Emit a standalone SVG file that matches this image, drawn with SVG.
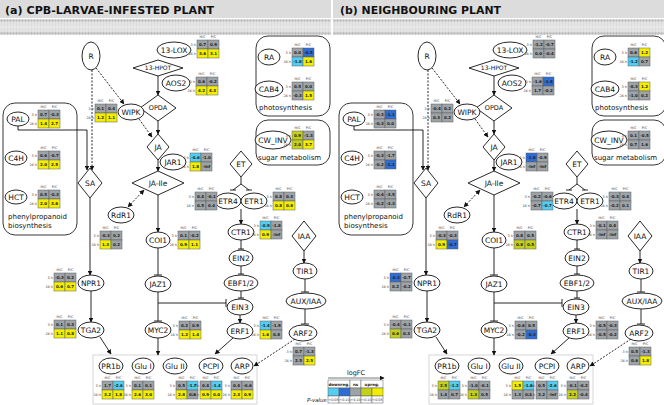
<svg xmlns="http://www.w3.org/2000/svg" xmlns:xlink="http://www.w3.org/1999/xlink" width="664" height="405" viewBox="0 0 664 405">
<style>
.n{fill:#fff;stroke:#111;stroke-width:0.9}
.bx{fill:#fff;stroke:#222;stroke-width:0.9}
.t{font-family:"DejaVu Sans",Verdana,sans-serif;font-size:7.5px;text-anchor:middle;fill:#111}
.bl{font-family:"DejaVu Sans",Verdana,sans-serif;font-size:7px;fill:#111}
.h{font-family:"DejaVu Sans",sans-serif;font-size:3.4px;text-anchor:middle;fill:#333}
.r{font-family:"DejaVu Sans",sans-serif;font-size:3.4px;text-anchor:end;fill:#333}
.v{font-family:"DejaVu Sans",sans-serif;font-size:4px;font-weight:bold;text-anchor:middle;fill:#222}
.tb rect{stroke:#5a5e62;stroke-width:0.5}
.g{fill:#9ea3a7}.y{fill:#f3ee00}.o{fill:#c5d01a}.c{fill:#55cdf0}.b{fill:#2f6cd6}
.ln path{fill:none;stroke:#111;stroke-width:0.9}
.ln path.ds{stroke-dasharray:2,1.5}
.ttl{font-family:"DejaVu Sans",Verdana,sans-serif;font-size:11px;font-weight:bold;fill:#111}
</style>
<defs>
<marker id="ar" viewBox="0 0 10 10" refX="9" refY="5" markerWidth="5" markerHeight="5" markerUnits="userSpaceOnUse" orient="auto-start-reverse"><path d="M0,0 L10,5 L0,10 z" fill="#111"/></marker>
<pattern id="mem" width="3" height="16" patternUnits="userSpaceOnUse" y="19"><rect width="3" height="16" fill="#ececec"/><circle cx="1.5" cy="1.6" r="1.3" fill="#bdbdbd"/><circle cx="1.5" cy="14.4" r="1.3" fill="#bdbdbd"/><path d="M1 3V7.5M2 3V7.5M1 8.5V13M2 8.5V13" stroke="#c2c2c2" stroke-width="0.4"/></pattern>
<g id="hd"><text class="h" x="5.5" y="-1.8">H/C</text><text class="h" x="16.5" y="-1.8">P/C</text><text class="r" x="-1" y="5.8">3 h</text><text class="r" x="-1" y="14.8">24 h</text></g>
</defs>
<rect width="664" height="405" fill="#fff"/>
<!-- title bars and membranes -->
<rect x="0" y="0" width="331" height="18" fill="#dcdcdc"/>
<rect x="333" y="0" width="331" height="18" fill="#dcdcdc"/>
<text class="ttl" x="5" y="14" textLength="209" lengthAdjust="spacingAndGlyphs">(a) CPB-LARVAE-INFESTED PLANT</text>
<text class="ttl" x="340" y="14" textLength="161" lengthAdjust="spacingAndGlyphs">(b) NEIGHBOURING PLANT</text>
<rect x="0" y="19" width="331" height="16" fill="url(#mem)"/>
<rect x="333" y="19" width="331" height="16" fill="url(#mem)"/>

<!-- ===================== PANEL A ===================== -->
<g id="panelA">
<g id="a-box-phenyl"><rect class="bx" x="3" y="103" width="74" height="132" rx="12"/><text class="bl" x="8" y="219">phenylpropanoid</text><text class="bl" x="8" y="228">biosynthesis</text></g>
<g id="a-box-photo"><rect class="bx" x="256" y="36" width="74" height="80" rx="12"/><text class="bl" x="259" y="110">photosynthesis</text></g>
<g id="a-box-sugar"><rect class="bx" x="256" y="120" width="74" height="45" rx="12"/><text class="bl" x="258" y="160">sugar metabolism</text></g>
<g id="a-box-targets"><rect x="93" y="355" width="164" height="49" fill="#fff" stroke="#ccc" stroke-width="0.8"/></g>

<g id="a-edges" class="ln">
<path class="ds" d="M96 68 L124 104" marker-end="url(#ar)"/>
<path class="ds" d="M92 70 V170" marker-end="url(#ar)"/>
<path d="M18 126 V130 H87 V170" marker-end="url(#ar)"/>
<path d="M158 76 V95" marker-end="url(#ar)"/>
<path d="M158 121 V134" marker-end="url(#ar)"/>
<path class="ds" d="M139 119 L152 137" marker-end="url(#ar)"/>
<path d="M158 160 V171" marker-end="url(#ar)"/>
<path class="ds" d="M144 190 L128 207" marker-start="url(#ar)" marker-end="url(#ar)"/>
<path d="M158 195 V232" marker-end="url(#ar)"/>
<path d="M158 248 V275 M154 275 H162"/>
<path d="M158 292 V321 M154 321 H162"/>
<path d="M158 303 H226 M226 299 V307"/>
<path d="M158 338 V355" marker-end="url(#ar)"/>
<path d="M90 198 V275" marker-end="url(#ar)"/>
<path d="M91 291 V322" marker-end="url(#ar)"/>
<path d="M100 337 L111 354" marker-end="url(#ar)"/>
<path d="M241 177 V184 L233 190 M241 184 L249 190 M230 190 H236 M246 190 H252"/>
<path d="M241 209 V224" marker-end="url(#ar)"/>
<path d="M241 240 V249 M238 249 H244"/>
<path d="M241 266 V274 M238 274 H244"/>
<path d="M241 291 V298 M238 298 H244"/>
<path d="M240 315 V323" marker-end="url(#ar)"/>
<path d="M233 338 L215 354" marker-end="url(#ar)"/>
<path class="ds" d="M295 339 L254 366" marker-end="url(#ar)"/>
<path d="M304 251 V263" marker-end="url(#ar)"/>
<path d="M305 279 V292 M301 292 H309"/>
<path d="M305 309 V324 M301 324 H309"/>
</g>

<g id="a-R"><ellipse class="n" cx="91" cy="56" rx="9" ry="14"/><text class="t" x="91" y="59">R</text></g>
<g id="a-13LOX"><ellipse class="n" cx="174" cy="50" rx="17" ry="8"/><text class="t" x="174" y="52.7">13-LOX</text></g>
<g id="a-13HPOT"><path class="n" d="M133 68 L158 60 L183 68 L158 76 Z"/><text class="t" x="158" y="70.3" style="font-size:6px">13-HPOT</text></g>
<g id="a-AOS2"><ellipse class="n" cx="176" cy="83" rx="14" ry="8"/><text class="t" x="176" y="85.7">AOS2</text></g>
<g id="a-OPDA"><path class="n" d="M140 108 L158 95 L176 108 L158 121 Z"/><text class="t" x="158" y="110.3" style="font-size:6.5px">OPDA</text></g>
<g id="a-WIPK"><ellipse class="n" cx="131" cy="112" rx="13" ry="8"/><text class="t" x="131" y="114.7">WIPK</text></g>
<g id="a-JA"><path class="n" d="M147 147 L158 134 L169 147 L158 160 Z"/><text class="t" x="158" y="149.7">JA</text></g>
<g id="a-JAR1"><ellipse class="n" cx="173" cy="162" rx="13" ry="8"/><text class="t" x="173" y="164.7">JAR1</text></g>
<g id="a-JAIle"><path class="n" d="M132 183 L158 171 L184 183 L158 195 Z"/><text class="t" x="158" y="185.7">JA-Ile</text></g>
<g id="a-SA"><path class="n" d="M78 183 L90 168 L102 183 L90 198 Z"/><text class="t" x="90" y="185.7">SA</text></g>
<g id="a-PAL"><ellipse class="n" cx="18" cy="119" rx="11" ry="7"/><text class="t" x="18" y="121.7">PAL</text></g>
<g id="a-C4H"><ellipse class="n" cx="16" cy="158" rx="11" ry="7"/><text class="t" x="16" y="160.7">C4H</text></g>
<g id="a-HCT"><ellipse class="n" cx="16" cy="197" rx="11" ry="7"/><text class="t" x="16" y="199.7">HCT</text></g>
<g id="a-RA"><ellipse class="n" cx="269" cy="57" rx="11" ry="8"/><text class="t" x="269" y="59.7">RA</text></g>
<g id="a-CAB4"><ellipse class="n" cx="269" cy="89" rx="14" ry="8"/><text class="t" x="269" y="91.7">CAB4</text></g>
<g id="a-CWINV"><ellipse class="n" cx="273" cy="140" rx="18" ry="9"/><text class="t" x="273" y="142.7">CW_INV</text></g>
<g id="a-RdR1"><ellipse class="n" cx="121" cy="215" rx="13" ry="8"/><text class="t" x="121" y="217.7">RdR1</text></g>
<g id="a-COI1"><ellipse class="n" cx="158" cy="240" rx="12" ry="8"/><text class="t" x="158" y="242.7">COI1</text></g>
<g id="a-ET"><path class="n" d="M230 164 L241 151 L252 164 L241 177 Z"/><text class="t" x="241" y="166.7">ET</text></g>
<g id="a-ETR4"><ellipse class="n" cx="228" cy="201" rx="13" ry="8"/><text class="t" x="228" y="203.7">ETR4</text></g>
<g id="a-ETR1"><ellipse class="n" cx="254" cy="201" rx="13" ry="8"/><text class="t" x="254" y="203.7">ETR1</text></g>
<g id="a-CTR1"><ellipse class="n" cx="241" cy="232" rx="13" ry="8"/><text class="t" x="241" y="234.7">CTR1</text></g>
<g id="a-IAA"><path class="n" d="M292 236 L304 221 L316 236 L304 251 Z"/><text class="t" x="304" y="238.7">IAA</text></g>
<g id="a-EIN2"><ellipse class="n" cx="241" cy="258" rx="12" ry="8"/><text class="t" x="241" y="260.7">EIN2</text></g>
<g id="a-TIR1"><ellipse class="n" cx="305" cy="271" rx="12" ry="8"/><text class="t" x="305" y="273.7">TIR1</text></g>
<g id="a-EBF12"><ellipse class="n" cx="241" cy="283" rx="17" ry="8"/><text class="t" x="241" y="285.7">EBF1/2</text></g>
<g id="a-AUXIAA"><ellipse class="n" cx="306" cy="301" rx="20" ry="8"/><text class="t" x="306" y="303.7">AUX/IAA</text></g>
<g id="a-EIN3"><ellipse class="n" cx="240" cy="307" rx="13" ry="8"/><text class="t" x="240" y="309.7">EIN3</text></g>
<g id="a-ERF1"><ellipse class="n" cx="240" cy="331" rx="13" ry="8"/><text class="t" x="240" y="333.7">ERF1</text></g>
<g id="a-ARF2"><ellipse class="n" cx="303" cy="333" rx="14" ry="8"/><text class="t" x="303" y="335.7">ARF2</text></g>
<g id="a-NPR1"><ellipse class="n" cx="91" cy="283" rx="13" ry="8"/><text class="t" x="91" y="285.7">NPR1</text></g>
<g id="a-TGA2"><ellipse class="n" cx="91" cy="330" rx="13" ry="8"/><text class="t" x="91" y="332.7">TGA2</text></g>
<g id="a-JAZ1"><ellipse class="n" cx="158" cy="284" rx="13" ry="8"/><text class="t" x="158" y="286.7">JAZ1</text></g>
<g id="a-MYC2"><ellipse class="n" cx="158" cy="330" rx="13" ry="8"/><text class="t" x="158" y="332.7">MYC2</text></g>
<g id="a-PR1b"><ellipse class="n" cx="111" cy="366" rx="12" ry="8"/><text class="t" x="111" y="368.7">PR1b</text></g>
<g id="a-GluI"><ellipse class="n" cx="143" cy="366" rx="11" ry="8"/><text class="t" x="143" y="368.7">Glu I</text></g>
<g id="a-GluII"><ellipse class="n" cx="175" cy="366" rx="12" ry="8"/><text class="t" x="175" y="368.7">Glu II</text></g>
<g id="a-PCPI"><ellipse class="n" cx="211" cy="366" rx="12" ry="8"/><text class="t" x="211" y="368.7">PCPI</text></g>
<g id="a-ARP"><ellipse class="n" cx="242" cy="366" rx="11" ry="8"/><text class="t" x="242" y="368.7">ARP</text></g>

<g id="a-tables" class="tb">
<g transform="translate(197,40)"><use href="#hd"/><rect class="g" width="11" height="9"/><rect class="g" x="11" width="11" height="9"/><rect class="y" y="9" width="11" height="9"/><rect class="y" x="11" y="9" width="11" height="9"/><text class="v" x="5.5" y="6">0.7</text><text class="v" x="16.5" y="6">0.9</text><text class="v" x="5.5" y="15">3.6</text><text class="v" x="16.5" y="15">3.1</text></g>
<g transform="translate(196,77)"><use href="#hd"/><rect class="g" width="11" height="9"/><rect class="g" x="11" width="11" height="9"/><rect class="y" y="9" width="11" height="9"/><rect class="y" x="11" y="9" width="11" height="9"/><text class="v" x="5.5" y="6">0.6</text><text class="v" x="16.5" y="6">-0.2</text><text class="v" x="5.5" y="15">4.2</text><text class="v" x="16.5" y="15">4.3</text></g>
<g transform="translate(95,104)"><use href="#hd"/><rect class="g" width="11" height="9"/><rect class="g" x="11" width="11" height="9"/><rect class="y" y="9" width="11" height="9"/><rect class="y" x="11" y="9" width="11" height="9"/><text class="v" x="5.5" y="6">0.1</text><text class="v" x="16.5" y="6">0.4</text><text class="v" x="5.5" y="15">1.2</text><text class="v" x="16.5" y="15">1.1</text></g>
<g transform="translate(38,110)"><use href="#hd"/><rect class="g" width="11" height="9"/><rect class="g" x="11" width="11" height="9"/><rect class="y" y="9" width="11" height="9"/><rect class="y" x="11" y="9" width="11" height="9"/><text class="v" x="5.5" y="6">0.7</text><text class="v" x="16.5" y="6">-0.3</text><text class="v" x="5.5" y="15">1.4</text><text class="v" x="16.5" y="15">2.7</text></g>
<g transform="translate(38,151)"><use href="#hd"/><rect class="g" width="11" height="9"/><rect class="g" x="11" width="11" height="9"/><rect class="y" y="9" width="11" height="9"/><rect class="y" x="11" y="9" width="11" height="9"/><text class="v" x="5.5" y="6">0.6</text><text class="v" x="16.5" y="6">-0.7</text><text class="v" x="5.5" y="15">2.0</text><text class="v" x="16.5" y="15">2.5</text></g>
<g transform="translate(38,190)"><use href="#hd"/><rect class="g" width="11" height="9"/><rect class="g" x="11" width="11" height="9"/><rect class="y" y="9" width="11" height="9"/><rect class="y" x="11" y="9" width="11" height="9"/><text class="v" x="5.5" y="6">0.5</text><text class="v" x="16.5" y="6">-0.3</text><text class="v" x="5.5" y="15">2.0</text><text class="v" x="16.5" y="15">3.6</text></g>
<g transform="translate(292,48)"><use href="#hd"/><rect class="g" width="11" height="9"/><rect class="b" x="11" width="11" height="9"/><rect class="c" y="9" width="11" height="9"/><rect class="y" x="11" y="9" width="11" height="9"/><text class="v" x="5.5" y="6">0.0</text><text class="v" x="16.5" y="6">-0.5</text><text class="v" x="5.5" y="15">-1.8</text><text class="v" x="16.5" y="15">1.6</text></g>
<g transform="translate(292,82)"><use href="#hd"/><rect class="g" width="11" height="9"/><rect class="g" x="11" width="11" height="9"/><rect class="g" y="9" width="11" height="9"/><rect class="y" x="11" y="9" width="11" height="9"/><text class="v" x="5.5" y="6">0.5</text><text class="v" x="16.5" y="6">0.0</text><text class="v" x="5.5" y="15">-0.3</text><text class="v" x="16.5" y="15">1.5</text></g>
<g transform="translate(292,131)"><use href="#hd"/><rect class="o" width="11" height="9"/><rect class="g" x="11" width="11" height="9"/><rect class="o" y="9" width="11" height="9"/><rect class="y" x="11" y="9" width="11" height="9"/><text class="v" x="5.5" y="6">0.9</text><text class="v" x="16.5" y="6">-1.3</text><text class="v" x="5.5" y="15">2.0</text><text class="v" x="16.5" y="15">3.7</text></g>
<g transform="translate(190,153)"><use href="#hd"/><rect class="c" width="11" height="9"/><rect class="g" x="11" width="11" height="9"/><rect class="y" y="9" width="11" height="9"/><rect class="g" x="11" y="9" width="11" height="9"/><text class="v" x="5.5" y="6">-0.6</text><text class="v" x="16.5" y="6">-1.0</text><text class="v" x="5.5" y="15">1.8</text><text class="v" x="16.5" y="15">-Inf</text></g>
<g transform="translate(195,192)"><use href="#hd"/><rect class="g" width="11" height="9"/><rect class="g" x="11" width="11" height="9"/><rect class="g" y="9" width="11" height="9"/><rect class="g" x="11" y="9" width="11" height="9"/><text class="v" x="5.5" y="6">0.4</text><text class="v" x="16.5" y="6">-0.1</text><text class="v" x="5.5" y="15">0.5</text><text class="v" x="16.5" y="15">0.4</text></g>
<g transform="translate(273,192)"><use href="#hd"/><rect class="g" width="11" height="9"/><rect class="g" x="11" width="11" height="9"/><rect class="y" y="9" width="11" height="9"/><rect class="y" x="11" y="9" width="11" height="9"/><text class="v" x="5.5" y="6">0.8</text><text class="v" x="16.5" y="6">0.3</text><text class="v" x="5.5" y="15">0.8</text><text class="v" x="16.5" y="15">0.8</text></g>
<g transform="translate(260,221)"><use href="#hd"/><rect class="c" width="11" height="9"/><rect class="g" x="11" width="11" height="9"/><rect class="y" y="9" width="11" height="9"/><rect class="g" x="11" y="9" width="11" height="9"/><text class="v" x="5.5" y="6">-0.9</text><text class="v" x="16.5" y="6">-1.8</text><text class="v" x="5.5" y="15">0.9</text><text class="v" x="16.5" y="15">-Inf</text></g>
<g transform="translate(100,231)"><use href="#hd"/><rect class="g" width="11" height="9"/><rect class="g" x="11" width="11" height="9"/><rect class="y" y="9" width="11" height="9"/><rect class="g" x="11" y="9" width="11" height="9"/><text class="v" x="5.5" y="6">-0.3</text><text class="v" x="16.5" y="6">0.2</text><text class="v" x="5.5" y="15">1.3</text><text class="v" x="16.5" y="15">0.2</text></g>
<g transform="translate(178,231)"><use href="#hd"/><rect class="g" width="11" height="9"/><rect class="g" x="11" width="11" height="9"/><rect class="y" y="9" width="11" height="9"/><rect class="y" x="11" y="9" width="11" height="9"/><text class="v" x="5.5" y="6">0.1</text><text class="v" x="16.5" y="6">-0.2</text><text class="v" x="5.5" y="15">0.9</text><text class="v" x="16.5" y="15">1.1</text></g>
<g transform="translate(54,273)"><use href="#hd"/><rect class="g" width="11" height="9"/><rect class="g" x="11" width="11" height="9"/><rect class="y" y="9" width="11" height="9"/><rect class="y" x="11" y="9" width="11" height="9"/><text class="v" x="5.5" y="6">-0.3</text><text class="v" x="16.5" y="6">0.2</text><text class="v" x="5.5" y="15">0.6</text><text class="v" x="16.5" y="15">0.7</text></g>
<g transform="translate(54,320)"><use href="#hd"/><rect class="g" width="11" height="9"/><rect class="g" x="11" width="11" height="9"/><rect class="y" y="9" width="11" height="9"/><rect class="y" x="11" y="9" width="11" height="9"/><text class="v" x="5.5" y="6">0.1</text><text class="v" x="16.5" y="6">0.3</text><text class="v" x="5.5" y="15">1.1</text><text class="v" x="16.5" y="15">0.8</text></g>
<g transform="translate(179,321)"><use href="#hd"/><rect class="g" width="11" height="9"/><rect class="g" x="11" width="11" height="9"/><rect class="y" y="9" width="11" height="9"/><rect class="y" x="11" y="9" width="11" height="9"/><text class="v" x="5.5" y="6">0.2</text><text class="v" x="16.5" y="6">0.9</text><text class="v" x="5.5" y="15">1.2</text><text class="v" x="16.5" y="15">1.4</text></g>
<g transform="translate(260,321)"><use href="#hd"/><rect class="c" width="11" height="9"/><rect class="g" x="11" width="11" height="9"/><rect class="y" y="9" width="11" height="9"/><rect class="g" x="11" y="9" width="11" height="9"/><text class="v" x="5.5" y="6">-1.4</text><text class="v" x="16.5" y="6">-1.9</text><text class="v" x="5.5" y="15">1.6</text><text class="v" x="16.5" y="15">0.8</text></g>
<g transform="translate(293,347)"><use href="#hd"/><rect class="g" width="11" height="9"/><rect class="g" x="11" width="11" height="9"/><rect class="g" y="9" width="11" height="9"/><rect class="y" x="11" y="9" width="11" height="9"/><text class="v" x="5.5" y="6">0.7</text><text class="v" x="16.5" y="6">-1.3</text><text class="v" x="5.5" y="15">2.5</text><text class="v" x="16.5" y="15">2.5</text></g>
<g transform="translate(102,381)"><use href="#hd"/><rect class="g" width="11" height="9"/><rect class="c" x="11" width="11" height="9"/><rect class="y" y="9" width="11" height="9"/><rect class="y" x="11" y="9" width="11" height="9"/><text class="v" x="5.5" y="6">1.7</text><text class="v" x="16.5" y="6">-2.6</text><text class="v" x="5.5" y="15">3.2</text><text class="v" x="16.5" y="15">1.8</text></g>
<g transform="translate(132,381)"><use href="#hd"/><rect class="g" width="11" height="9"/><rect class="g" x="11" width="11" height="9"/><rect class="y" y="9" width="11" height="9"/><rect class="y" x="11" y="9" width="11" height="9"/><text class="v" x="5.5" y="6">0.1</text><text class="v" x="16.5" y="6">0.1</text><text class="v" x="5.5" y="15">2.6</text><text class="v" x="16.5" y="15">3.0</text></g>
<g transform="translate(176,381)"><use href="#hd"/><rect class="g" width="11" height="9"/><rect class="c" x="11" width="11" height="9"/><rect class="y" y="9" width="11" height="9"/><rect class="g" x="11" y="9" width="11" height="9"/><text class="v" x="5.5" y="6">0.5</text><text class="v" x="16.5" y="6">-1.7</text><text class="v" x="5.5" y="15">2.8</text><text class="v" x="16.5" y="15">0.6</text></g>
<g transform="translate(200,381)"><use href="#hd"/><rect class="g" width="11" height="9"/><rect class="c" x="11" width="11" height="9"/><rect class="y" y="9" width="11" height="9"/><rect class="y" x="11" y="9" width="11" height="9"/><text class="v" x="5.5" y="6">0.4</text><text class="v" x="16.5" y="6">-1.4</text><text class="v" x="5.5" y="15">0.9</text><text class="v" x="16.5" y="15">0.0</text></g>
<g transform="translate(231,381)"><use href="#hd"/><rect class="g" width="11" height="9"/><rect class="g" x="11" width="11" height="9"/><rect class="y" y="9" width="11" height="9"/><rect class="y" x="11" y="9" width="11" height="9"/><text class="v" x="5.5" y="6">0.4</text><text class="v" x="16.5" y="6">-0.6</text><text class="v" x="5.5" y="15">2.3</text><text class="v" x="16.5" y="15">0.9</text></g>
</g>
</g>

<!-- ===================== PANEL B ===================== -->
<g id="panelB" transform="translate(336,0)">
<g id="b-box-phenyl"><rect class="bx" x="3" y="103" width="74" height="132" rx="12"/><text class="bl" x="8" y="219">phenylpropanoid</text><text class="bl" x="8" y="228">biosynthesis</text></g>
<g id="b-box-photo"><rect class="bx" x="256" y="36" width="74" height="80" rx="12"/><text class="bl" x="259" y="110">photosynthesis</text></g>
<g id="b-box-sugar"><rect class="bx" x="256" y="120" width="74" height="45" rx="12"/><text class="bl" x="258" y="160">sugar metabolism</text></g>
<g id="b-box-targets"><rect x="93" y="355" width="164" height="49" fill="#fff" stroke="#ccc" stroke-width="0.8"/></g>

<g id="b-edges" class="ln">
<path class="ds" d="M96 68 L124 104" marker-end="url(#ar)"/>
<path class="ds" d="M92 70 V170" marker-end="url(#ar)"/>
<path d="M18 126 V130 H87 V170" marker-end="url(#ar)"/>
<path d="M158 76 V95" marker-end="url(#ar)"/>
<path d="M158 121 V134" marker-end="url(#ar)"/>
<path class="ds" d="M139 119 L152 137" marker-end="url(#ar)"/>
<path d="M158 160 V171" marker-end="url(#ar)"/>
<path class="ds" d="M144 190 L128 207" marker-start="url(#ar)" marker-end="url(#ar)"/>
<path d="M158 195 V232" marker-end="url(#ar)"/>
<path d="M158 248 V275 M154 275 H162"/>
<path d="M158 292 V321 M154 321 H162"/>
<path d="M158 303 H226 M226 299 V307"/>
<path d="M158 338 V355" marker-end="url(#ar)"/>
<path d="M90 198 V275" marker-end="url(#ar)"/>
<path d="M91 291 V322" marker-end="url(#ar)"/>
<path d="M100 337 L111 354" marker-end="url(#ar)"/>
<path d="M241 177 V184 L233 190 M241 184 L249 190 M230 190 H236 M246 190 H252"/>
<path d="M241 209 V224" marker-end="url(#ar)"/>
<path d="M241 240 V249 M238 249 H244"/>
<path d="M241 266 V274 M238 274 H244"/>
<path d="M241 291 V298 M238 298 H244"/>
<path d="M240 315 V323" marker-end="url(#ar)"/>
<path d="M233 338 L215 354" marker-end="url(#ar)"/>
<path class="ds" d="M295 339 L254 366" marker-end="url(#ar)"/>
<path d="M304 251 V263" marker-end="url(#ar)"/>
<path d="M305 279 V292 M301 292 H309"/>
<path d="M305 309 V324 M301 324 H309"/>
</g>

<g id="b-R"><ellipse class="n" cx="91" cy="56" rx="9" ry="14"/><text class="t" x="91" y="59">R</text></g>
<g id="b-13LOX"><ellipse class="n" cx="174" cy="50" rx="17" ry="8"/><text class="t" x="174" y="52.7">13-LOX</text></g>
<g id="b-13HPOT"><path class="n" d="M133 68 L158 60 L183 68 L158 76 Z"/><text class="t" x="158" y="70.3" style="font-size:6px">13-HPOT</text></g>
<g id="b-AOS2"><ellipse class="n" cx="176" cy="83" rx="14" ry="8"/><text class="t" x="176" y="85.7">AOS2</text></g>
<g id="b-OPDA"><path class="n" d="M140 108 L158 95 L176 108 L158 121 Z"/><text class="t" x="158" y="110.3" style="font-size:6.5px">OPDA</text></g>
<g id="b-WIPK"><ellipse class="n" cx="131" cy="112" rx="13" ry="8"/><text class="t" x="131" y="114.7">WIPK</text></g>
<g id="b-JA"><path class="n" d="M147 147 L158 134 L169 147 L158 160 Z"/><text class="t" x="158" y="149.7">JA</text></g>
<g id="b-JAR1"><ellipse class="n" cx="173" cy="162" rx="13" ry="8"/><text class="t" x="173" y="164.7">JAR1</text></g>
<g id="b-JAIle"><path class="n" d="M132 183 L158 171 L184 183 L158 195 Z"/><text class="t" x="158" y="185.7">JA-Ile</text></g>
<g id="b-SA"><path class="n" d="M78 183 L90 168 L102 183 L90 198 Z"/><text class="t" x="90" y="185.7">SA</text></g>
<g id="b-PAL"><ellipse class="n" cx="18" cy="119" rx="11" ry="7"/><text class="t" x="18" y="121.7">PAL</text></g>
<g id="b-C4H"><ellipse class="n" cx="16" cy="158" rx="11" ry="7"/><text class="t" x="16" y="160.7">C4H</text></g>
<g id="b-HCT"><ellipse class="n" cx="16" cy="197" rx="11" ry="7"/><text class="t" x="16" y="199.7">HCT</text></g>
<g id="b-RA"><ellipse class="n" cx="269" cy="57" rx="11" ry="8"/><text class="t" x="269" y="59.7">RA</text></g>
<g id="b-CAB4"><ellipse class="n" cx="269" cy="89" rx="14" ry="8"/><text class="t" x="269" y="91.7">CAB4</text></g>
<g id="b-CWINV"><ellipse class="n" cx="273" cy="140" rx="18" ry="9"/><text class="t" x="273" y="142.7">CW_INV</text></g>
<g id="b-RdR1"><ellipse class="n" cx="121" cy="215" rx="13" ry="8"/><text class="t" x="121" y="217.7">RdR1</text></g>
<g id="b-COI1"><ellipse class="n" cx="158" cy="240" rx="12" ry="8"/><text class="t" x="158" y="242.7">COI1</text></g>
<g id="b-ET"><path class="n" d="M230 164 L241 151 L252 164 L241 177 Z"/><text class="t" x="241" y="166.7">ET</text></g>
<g id="b-ETR4"><ellipse class="n" cx="228" cy="201" rx="13" ry="8"/><text class="t" x="228" y="203.7">ETR4</text></g>
<g id="b-ETR1"><ellipse class="n" cx="254" cy="201" rx="13" ry="8"/><text class="t" x="254" y="203.7">ETR1</text></g>
<g id="b-CTR1"><ellipse class="n" cx="241" cy="232" rx="13" ry="8"/><text class="t" x="241" y="234.7">CTR1</text></g>
<g id="b-IAA"><path class="n" d="M292 236 L304 221 L316 236 L304 251 Z"/><text class="t" x="304" y="238.7">IAA</text></g>
<g id="b-EIN2"><ellipse class="n" cx="241" cy="258" rx="12" ry="8"/><text class="t" x="241" y="260.7">EIN2</text></g>
<g id="b-TIR1"><ellipse class="n" cx="305" cy="271" rx="12" ry="8"/><text class="t" x="305" y="273.7">TIR1</text></g>
<g id="b-EBF12"><ellipse class="n" cx="241" cy="283" rx="17" ry="8"/><text class="t" x="241" y="285.7">EBF1/2</text></g>
<g id="b-AUXIAA"><ellipse class="n" cx="306" cy="301" rx="20" ry="8"/><text class="t" x="306" y="303.7">AUX/IAA</text></g>
<g id="b-EIN3"><ellipse class="n" cx="240" cy="307" rx="13" ry="8"/><text class="t" x="240" y="309.7">EIN3</text></g>
<g id="b-ERF1"><ellipse class="n" cx="240" cy="331" rx="13" ry="8"/><text class="t" x="240" y="333.7">ERF1</text></g>
<g id="b-ARF2"><ellipse class="n" cx="303" cy="333" rx="14" ry="8"/><text class="t" x="303" y="335.7">ARF2</text></g>
<g id="b-NPR1"><ellipse class="n" cx="91" cy="283" rx="13" ry="8"/><text class="t" x="91" y="285.7">NPR1</text></g>
<g id="b-TGA2"><ellipse class="n" cx="91" cy="330" rx="13" ry="8"/><text class="t" x="91" y="332.7">TGA2</text></g>
<g id="b-JAZ1"><ellipse class="n" cx="158" cy="284" rx="13" ry="8"/><text class="t" x="158" y="286.7">JAZ1</text></g>
<g id="b-MYC2"><ellipse class="n" cx="158" cy="330" rx="13" ry="8"/><text class="t" x="158" y="332.7">MYC2</text></g>
<g id="b-PR1b"><ellipse class="n" cx="111" cy="366" rx="12" ry="8"/><text class="t" x="111" y="368.7">PR1b</text></g>
<g id="b-GluI"><ellipse class="n" cx="143" cy="366" rx="11" ry="8"/><text class="t" x="143" y="368.7">Glu I</text></g>
<g id="b-GluII"><ellipse class="n" cx="175" cy="366" rx="12" ry="8"/><text class="t" x="175" y="368.7">Glu II</text></g>
<g id="b-PCPI"><ellipse class="n" cx="211" cy="366" rx="12" ry="8"/><text class="t" x="211" y="368.7">PCPI</text></g>
<g id="b-ARP"><ellipse class="n" cx="242" cy="366" rx="11" ry="8"/><text class="t" x="242" y="368.7">ARP</text></g>

<g id="b-tables" class="tb">
<g transform="translate(197,40)"><use href="#hd"/><rect class="g" width="11" height="9"/><rect class="g" x="11" width="11" height="9"/><rect class="g" y="9" width="11" height="9"/><rect class="g" x="11" y="9" width="11" height="9"/><text class="v" x="5.5" y="6">-1.2</text><text class="v" x="16.5" y="6">-0.7</text><text class="v" x="5.5" y="15">0.0</text><text class="v" x="16.5" y="15">-0.4</text></g>
<g transform="translate(196,77)"><use href="#hd"/><rect class="g" width="11" height="9"/><rect class="b" x="11" width="11" height="9"/><rect class="g" y="9" width="11" height="9"/><rect class="g" x="11" y="9" width="11" height="9"/><text class="v" x="5.5" y="6">-1.6</text><text class="v" x="16.5" y="6">-1.8</text><text class="v" x="5.5" y="15">1.7</text><text class="v" x="16.5" y="15">-0.2</text></g>
<g transform="translate(95,104)"><use href="#hd"/><rect class="g" width="11" height="9"/><rect class="g" x="11" width="11" height="9"/><rect class="g" y="9" width="11" height="9"/><rect class="g" x="11" y="9" width="11" height="9"/><text class="v" x="5.5" y="6">-0.4</text><text class="v" x="16.5" y="6">0.2</text><text class="v" x="5.5" y="15">0.3</text><text class="v" x="16.5" y="15">0.2</text></g>
<g transform="translate(38,110)"><use href="#hd"/><rect class="g" width="11" height="9"/><rect class="b" x="11" width="11" height="9"/><rect class="g" y="9" width="11" height="9"/><rect class="g" x="11" y="9" width="11" height="9"/><text class="v" x="5.5" y="6">-0.3</text><text class="v" x="16.5" y="6">-1.1</text><text class="v" x="5.5" y="15">-0.3</text><text class="v" x="16.5" y="15">0.0</text></g>
<g transform="translate(38,151)"><use href="#hd"/><rect class="g" width="11" height="9"/><rect class="g" x="11" width="11" height="9"/><rect class="g" y="9" width="11" height="9"/><rect class="b" x="11" y="9" width="11" height="9"/><text class="v" x="5.5" y="6">-0.3</text><text class="v" x="16.5" y="6">-1.7</text><text class="v" x="5.5" y="15">-0.2</text><text class="v" x="16.5" y="15">-1.1</text></g>
<g transform="translate(38,190)"><use href="#hd"/><rect class="g" width="11" height="9"/><rect class="g" x="11" width="11" height="9"/><rect class="g" y="9" width="11" height="9"/><rect class="g" x="11" y="9" width="11" height="9"/><text class="v" x="5.5" y="6">-0.4</text><text class="v" x="16.5" y="6">-3.5</text><text class="v" x="5.5" y="15">-0.2</text><text class="v" x="16.5" y="15">-3.3</text></g>
<g transform="translate(292,48)"><use href="#hd"/><rect class="g" width="11" height="9"/><rect class="y" x="11" width="11" height="9"/><rect class="c" y="9" width="11" height="9"/><rect class="g" x="11" y="9" width="11" height="9"/><text class="v" x="5.5" y="6">0.6</text><text class="v" x="16.5" y="6">1.2</text><text class="v" x="5.5" y="15">-1.2</text><text class="v" x="16.5" y="15">0.7</text></g>
<g transform="translate(292,82)"><use href="#hd"/><rect class="g" width="11" height="9"/><rect class="y" x="11" width="11" height="9"/><rect class="g" y="9" width="11" height="9"/><rect class="g" x="11" y="9" width="11" height="9"/><text class="v" x="5.5" y="6">-0.3</text><text class="v" x="16.5" y="6">1.2</text><text class="v" x="5.5" y="15">-1.0</text><text class="v" x="16.5" y="15">0.2</text></g>
<g transform="translate(292,131)"><use href="#hd"/><rect class="g" width="11" height="9"/><rect class="g" x="11" width="11" height="9"/><rect class="g" y="9" width="11" height="9"/><rect class="g" x="11" y="9" width="11" height="9"/><text class="v" x="5.5" y="6">0.1</text><text class="v" x="16.5" y="6">-0.5</text><text class="v" x="5.5" y="15">0.7</text><text class="v" x="16.5" y="15">1.6</text></g>
<g transform="translate(190,153)"><use href="#hd"/><rect class="b" width="11" height="9"/><rect class="g" x="11" width="11" height="9"/><rect class="g" y="9" width="11" height="9"/><rect class="g" x="11" y="9" width="11" height="9"/><text class="v" x="5.5" y="6">-1.8</text><text class="v" x="16.5" y="6">-0.9</text><text class="v" x="5.5" y="15">-Inf</text><text class="v" x="16.5" y="15">-Inf</text></g>
<g transform="translate(195,192)"><use href="#hd"/><rect class="g" width="11" height="9"/><rect class="g" x="11" width="11" height="9"/><rect class="g" y="9" width="11" height="9"/><rect class="c" x="11" y="9" width="11" height="9"/><text class="v" x="5.5" y="6">-0.2</text><text class="v" x="16.5" y="6">-0.6</text><text class="v" x="5.5" y="15">-0.7</text><text class="v" x="16.5" y="15">-0.7</text></g>
<g transform="translate(273,192)"><use href="#hd"/><rect class="g" width="11" height="9"/><rect class="g" x="11" width="11" height="9"/><rect class="g" y="9" width="11" height="9"/><rect class="g" x="11" y="9" width="11" height="9"/><text class="v" x="5.5" y="6">-0.3</text><text class="v" x="16.5" y="6">0.4</text><text class="v" x="5.5" y="15">-0.2</text><text class="v" x="16.5" y="15">0.1</text></g>
<g transform="translate(260,221)"><use href="#hd"/><rect class="g" width="11" height="9"/><rect class="g" x="11" width="11" height="9"/><rect class="g" y="9" width="11" height="9"/><rect class="g" x="11" y="9" width="11" height="9"/><text class="v" x="5.5" y="6">-0.1</text><text class="v" x="16.5" y="6">0.4</text><text class="v" x="5.5" y="15">-Inf</text><text class="v" x="16.5" y="15">-Inf</text></g>
<g transform="translate(100,231)"><use href="#hd"/><rect class="g" width="11" height="9"/><rect class="g" x="11" width="11" height="9"/><rect class="y" y="9" width="11" height="9"/><rect class="b" x="11" y="9" width="11" height="9"/><text class="v" x="5.5" y="6">-0.3</text><text class="v" x="16.5" y="6">-0.3</text><text class="v" x="5.5" y="15">0.9</text><text class="v" x="16.5" y="15">-0.7</text></g>
<g transform="translate(178,231)"><use href="#hd"/><rect class="g" width="11" height="9"/><rect class="g" x="11" width="11" height="9"/><rect class="o" y="9" width="11" height="9"/><rect class="o" x="11" y="9" width="11" height="9"/><text class="v" x="5.5" y="6">0.8</text><text class="v" x="16.5" y="6">0.5</text><text class="v" x="5.5" y="15">0.8</text><text class="v" x="16.5" y="15">0.5</text></g>
<g transform="translate(54,273)"><use href="#hd"/><rect class="b" width="11" height="9"/><rect class="g" x="11" width="11" height="9"/><rect class="g" y="9" width="11" height="9"/><rect class="g" x="11" y="9" width="11" height="9"/><text class="v" x="5.5" y="6">-0.3</text><text class="v" x="16.5" y="6">-0.7</text><text class="v" x="5.5" y="15">0.2</text><text class="v" x="16.5" y="15">-0.2</text></g>
<g transform="translate(54,320)"><use href="#hd"/><rect class="g" width="11" height="9"/><rect class="g" x="11" width="11" height="9"/><rect class="o" y="9" width="11" height="9"/><rect class="g" x="11" y="9" width="11" height="9"/><text class="v" x="5.5" y="6">-0.4</text><text class="v" x="16.5" y="6">-0.1</text><text class="v" x="5.5" y="15">0.6</text><text class="v" x="16.5" y="15">0.3</text></g>
<g transform="translate(179,321)"><use href="#hd"/><rect class="g" width="11" height="9"/><rect class="g" x="11" width="11" height="9"/><rect class="g" y="9" width="11" height="9"/><rect class="b" x="11" y="9" width="11" height="9"/><text class="v" x="5.5" y="6">-0.6</text><text class="v" x="16.5" y="6">0.5</text><text class="v" x="5.5" y="15">-0.2</text><text class="v" x="16.5" y="15">-0.3</text></g>
<g transform="translate(260,321)"><use href="#hd"/><rect class="g" width="11" height="9"/><rect class="g" x="11" width="11" height="9"/><rect class="g" y="9" width="11" height="9"/><rect class="g" x="11" y="9" width="11" height="9"/><text class="v" x="5.5" y="6">-0.5</text><text class="v" x="16.5" y="6">-0.3</text><text class="v" x="5.5" y="15">-0.5</text><text class="v" x="16.5" y="15">-0.2</text></g>
<g transform="translate(293,347)"><use href="#hd"/><rect class="g" width="11" height="9"/><rect class="g" x="11" width="11" height="9"/><rect class="g" y="9" width="11" height="9"/><rect class="y" x="11" y="9" width="11" height="9"/><text class="v" x="5.5" y="6">0.5</text><text class="v" x="16.5" y="6">-1.3</text><text class="v" x="5.5" y="15">0.6</text><text class="v" x="16.5" y="15">1.8</text></g>
<g transform="translate(102,381)"><use href="#hd"/><rect class="o" width="11" height="9"/><rect class="c" x="11" width="11" height="9"/><rect class="g" y="9" width="11" height="9"/><rect class="g" x="11" y="9" width="11" height="9"/><text class="v" x="5.5" y="6">2.5</text><text class="v" x="16.5" y="6">-1.2</text><text class="v" x="5.5" y="15">1.4</text><text class="v" x="16.5" y="15">0.7</text></g>
<g transform="translate(132,381)"><use href="#hd"/><rect class="g" width="11" height="9"/><rect class="g" x="11" width="11" height="9"/><rect class="o" y="9" width="11" height="9"/><rect class="g" x="11" y="9" width="11" height="9"/><text class="v" x="5.5" y="6">-1.0</text><text class="v" x="16.5" y="6">-0.1</text><text class="v" x="5.5" y="15">1.3</text><text class="v" x="16.5" y="15">0.5</text></g>
<g transform="translate(176,381)"><use href="#hd"/><rect class="y" width="11" height="9"/><rect class="c" x="11" width="11" height="9"/><rect class="g" y="9" width="11" height="9"/><rect class="g" x="11" y="9" width="11" height="9"/><text class="v" x="5.5" y="6">1.5</text><text class="v" x="16.5" y="6">-1.6</text><text class="v" x="5.5" y="15">1.3</text><text class="v" x="16.5" y="15">0.1</text></g>
<g transform="translate(200,381)"><use href="#hd"/><rect class="g" width="11" height="9"/><rect class="c" x="11" width="11" height="9"/><rect class="g" y="9" width="11" height="9"/><rect class="g" x="11" y="9" width="11" height="9"/><text class="v" x="5.5" y="6">0.5</text><text class="v" x="16.5" y="6">-2.6</text><text class="v" x="5.5" y="15">3.2</text><text class="v" x="16.5" y="15">-Inf</text></g>
<g transform="translate(231,381)"><use href="#hd"/><rect class="g" width="11" height="9"/><rect class="g" x="11" width="11" height="9"/><rect class="o" y="9" width="11" height="9"/><rect class="g" x="11" y="9" width="11" height="9"/><text class="v" x="5.5" y="6">-0.1</text><text class="v" x="16.5" y="6">-0.2</text><text class="v" x="5.5" y="15">2.2</text><text class="v" x="16.5" y="15">-0.4</text></g>
</g>
</g>

<!-- legend -->
<g id="legend" class="tb">
<text x="356" y="375" style="font-family:'DejaVu Sans',sans-serif;font-size:6.5px;text-anchor:middle;fill:#222">logFC</text>
<path d="M328 378 H384" stroke="#222" stroke-width="0.6" fill="none" marker-end="url(#ar)"/>
<rect fill="#fff" x="328" y="380" width="22" height="8"/><rect fill="#fff" x="350" y="380" width="11" height="8"/><rect fill="#fff" x="361" y="380" width="22" height="8"/>
<text class="v" x="339" y="385.5">downreg.</text><text class="v" x="355.5" y="385.5">ns</text><text class="v" x="372" y="385.5">upreg.</text>
<rect class="c" x="328" y="388" width="11" height="8"/><rect class="b" x="339" y="388" width="11" height="8"/><rect class="g" x="350" y="388" width="11" height="8"/><rect class="o" x="361" y="388" width="11" height="8"/><rect class="y" x="372" y="388" width="11" height="8"/>
<text x="327" y="402" style="font-family:'DejaVu Sans',sans-serif;font-size:5.5px;font-style:italic;text-anchor:end;fill:#222">P-value</text>
<rect fill="#fff" x="328" y="396" width="11" height="7"/><rect fill="#fff" x="339" y="396" width="11" height="7"/><rect fill="#fff" x="350" y="396" width="11" height="7"/><rect fill="#fff" x="361" y="396" width="11" height="7"/><rect fill="#fff" x="372" y="396" width="11" height="7"/>
<text class="h" x="333.5" y="401">&lt;0.05</text><text class="h" x="344.5" y="401">&lt;0.10</text><text class="h" x="355.5" y="401">&gt;0.10</text><text class="h" x="366.5" y="401">&lt;0.10</text><text class="h" x="377.5" y="401">&lt;0.05</text>
</g>
</svg>
